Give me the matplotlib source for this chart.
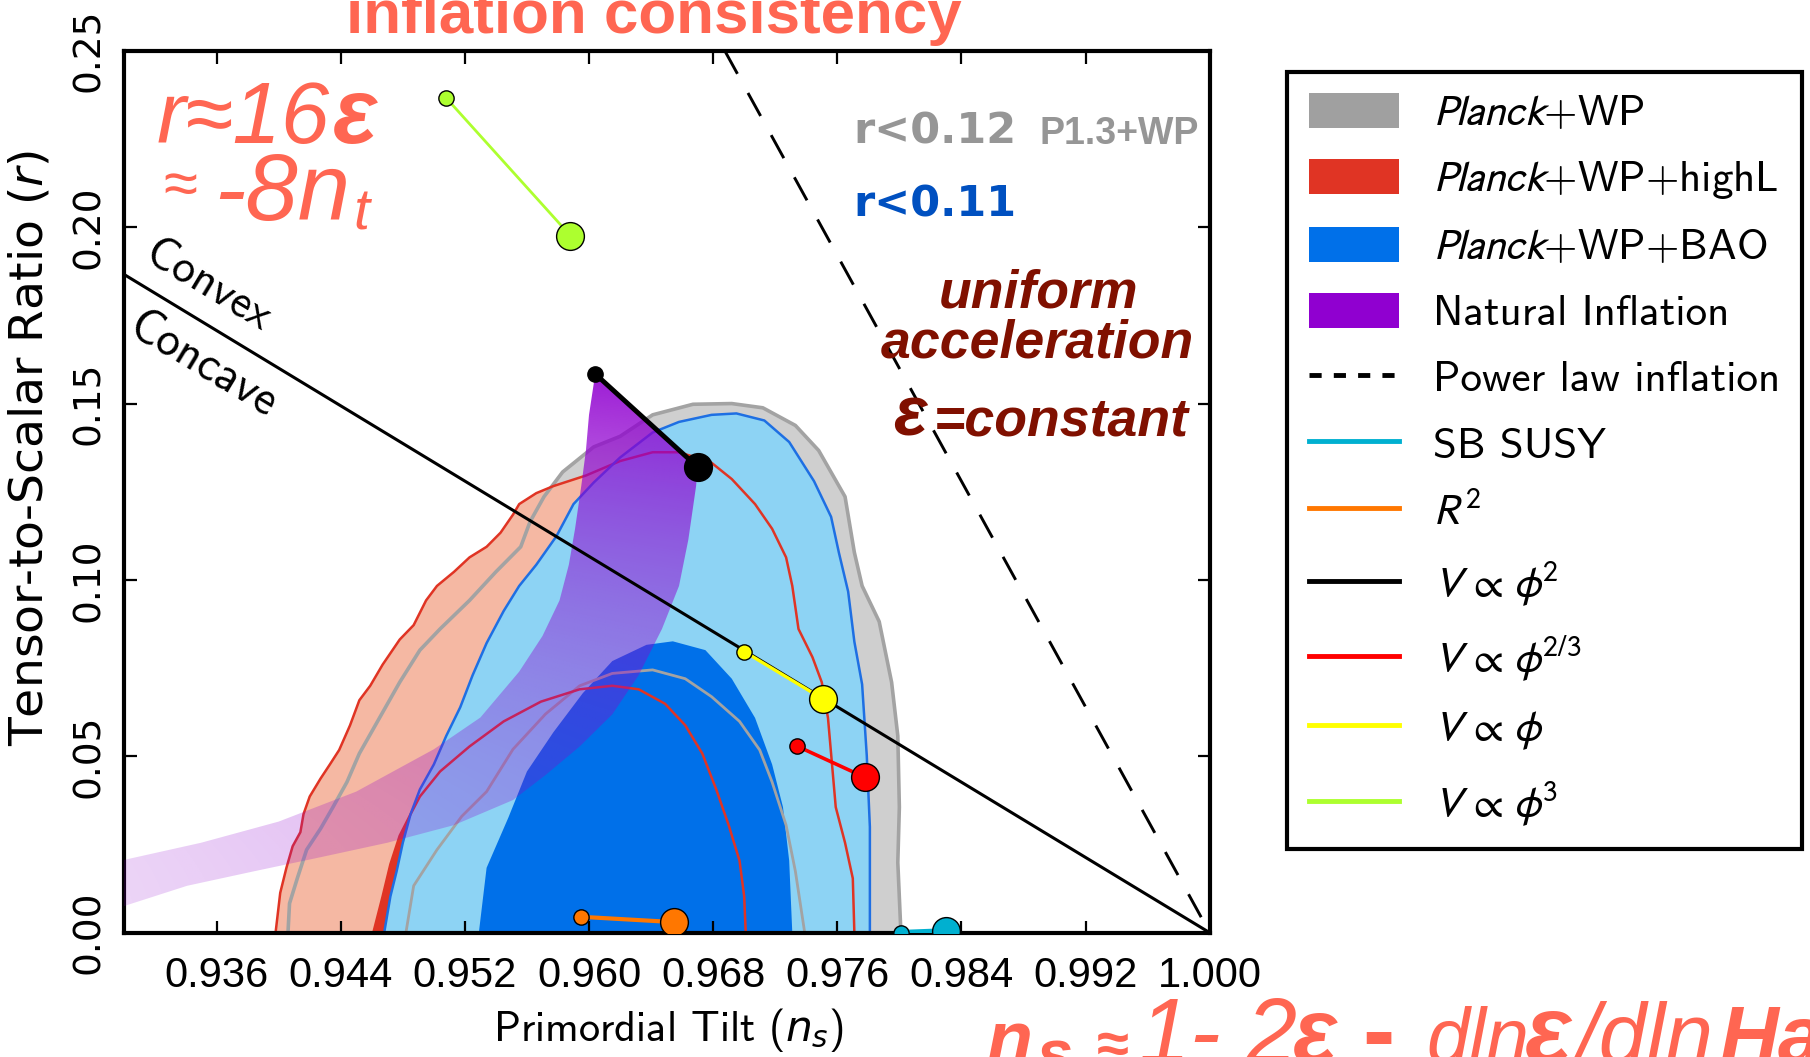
import numpy as np
import matplotlib
matplotlib.use('Agg')
import matplotlib.pyplot as plt
from matplotlib import font_manager as fm
from matplotlib.font_manager import FontProperties
from matplotlib.patches import Polygon, Patch
from matplotlib.lines import Line2D

plt.rcParams['axes.unicode_minus'] = False

# ------------------------------------------------------------------ data
# Planck+WP  (grey) 95% / 68%
planck_wp_95_ns = [0.9406, 0.9407, 0.9412, 0.9418, 0.9427, 0.9435, 0.9444, 0.9452, 0.9465, 0.9478,
                   0.9491, 0.9504, 0.9523, 0.9540, 0.9556, 0.9562, 0.9571, 0.9583, 0.9603, 0.9620,
                   0.9641, 0.9667, 0.9692, 0.9712, 0.9733, 0.9748, 0.9765, 0.9771, 0.9776, 0.9787,
                   0.9795, 0.9799, 0.9800, 0.9799, 0.9801]
planck_wp_95_r = [0.0, 0.0083, 0.0154, 0.0235, 0.0295, 0.0356, 0.0427, 0.0508, 0.0609, 0.0710,
                  0.0801, 0.0861, 0.0942, 0.1023, 0.1094, 0.1165, 0.1236, 0.1306, 0.1377, 0.1407,
                  0.1468, 0.1498, 0.1500, 0.1488, 0.1438, 0.1367, 0.1236, 0.1078, 0.0983, 0.0882,
                  0.0710, 0.0558, 0.0356, 0.0199, 0.0]
planck_wp_68_ns = [0.9482, 0.9487, 0.9502, 0.9518, 0.9534, 0.9551, 0.9572, 0.9594, 0.9615, 0.9641,
                   0.9662, 0.9679, 0.9697, 0.9710, 0.9718, 0.9727, 0.9733, 0.9739]
planck_wp_68_r = [0.0, 0.0133, 0.0235, 0.0330, 0.0400, 0.0520, 0.0620, 0.0700, 0.0735, 0.0745,
                  0.0720, 0.0669, 0.0599, 0.0518, 0.0427, 0.0305, 0.0174, 0.0]

# Planck+WP+highL (red) 95% / 68%
highl_95_ns = [0.9398, 0.9401, 0.9405, 0.9409, 0.9414, 0.9416, 0.9420, 0.9427, 0.9433, 0.9439,
               0.9446, 0.9452, 0.9459, 0.9467, 0.9478, 0.9487, 0.9495, 0.9502, 0.9513, 0.9523,
               0.9534, 0.9543, 0.9551, 0.9555, 0.9566, 0.9577, 0.9598, 0.9620, 0.9641, 0.9658,
               0.9669, 0.9679, 0.9692, 0.9707, 0.9718, 0.9727, 0.9731, 0.9735, 0.9744, 0.9750,
               0.9754, 0.9756, 0.9759, 0.9765, 0.9770, 0.9771]
highl_95_r = [0.0, 0.0113, 0.0184, 0.0245, 0.0285, 0.0336, 0.0386, 0.0437, 0.0477, 0.0518,
              0.0588, 0.0659, 0.0700, 0.0760, 0.0831, 0.0872, 0.0942, 0.0983, 0.1023, 0.1064,
              0.1094, 0.1134, 0.1185, 0.1215, 0.1246, 0.1266, 0.1296, 0.1337, 0.1362, 0.1362,
              0.1347, 0.1332, 0.1286, 0.1215, 0.1145, 0.1064, 0.0983, 0.0861, 0.0781, 0.0710,
              0.0609, 0.0508, 0.0356, 0.0255, 0.0154, 0.0]
highl_68_ns = [0.9461, 0.9467, 0.9472, 0.9478, 0.9485, 0.9491, 0.9504, 0.9523, 0.9545, 0.9569,
               0.9594, 0.9615, 0.9632, 0.9649, 0.9662, 0.9673, 0.9682, 0.9690, 0.9697, 0.9700,
               0.9701]
highl_68_r = [0.0, 0.0103, 0.0194, 0.0275, 0.0336, 0.0386, 0.0457, 0.0528, 0.0599, 0.0655,
              0.0690, 0.0700, 0.0690, 0.0649, 0.0588, 0.0508, 0.0406, 0.0305, 0.0204, 0.0103,
              0.0]

# Planck+WP+BAO (blue) 95% / 68%
bao_95_ns = [0.9468, 0.9472, 0.9476, 0.9480, 0.9485, 0.9491, 0.9500, 0.9508, 0.9517, 0.9525,
             0.9534, 0.9545, 0.9555, 0.9566, 0.9579, 0.9590, 0.9603, 0.9620, 0.9641, 0.9658,
             0.9679, 0.9695, 0.9713, 0.9729, 0.9745, 0.9756, 0.9761, 0.9767, 0.9771, 0.9776,
             0.9779, 0.9781, 0.9781]
bao_95_r = [0.0, 0.0103, 0.0174, 0.0255, 0.0336, 0.0406, 0.0477, 0.0558, 0.0639, 0.0730,
            0.0821, 0.0912, 0.0983, 0.1043, 0.1124, 0.1215, 0.1276, 0.1347, 0.1418, 0.1448,
            0.1468, 0.1472, 0.1452, 0.1391, 0.1280, 0.1179, 0.1078, 0.0967, 0.0825, 0.0704,
            0.0502, 0.0300, 0.0]
bao_68_ns = [0.9529, 0.9534, 0.9548, 0.9560, 0.9577, 0.9596, 0.9615, 0.9637, 0.9654, 0.9675,
             0.9692, 0.9707, 0.9718, 0.9725, 0.9729, 0.9731]
bao_68_r = [0.0, 0.0184, 0.0326, 0.0457, 0.0568, 0.0679, 0.0770, 0.0816, 0.0826, 0.0801,
            0.0720, 0.0609, 0.0477, 0.0356, 0.0204, 0.0]

# Natural inflation band: two edges
natural_upper_ns = [0.9300, 0.9350, 0.9400, 0.9450, 0.9500, 0.9530, 0.9555, 0.9570, 0.9581, 0.9587,
                    0.9591, 0.9595, 0.9598, 0.9600, 0.9604]
natural_upper_r = [0.0206, 0.0255, 0.0315, 0.0400, 0.0520, 0.0610, 0.0740, 0.0841, 0.0942, 0.1043,
                   0.1145, 0.1266, 0.1367, 0.1468, 0.1584]
natural_lower_ns = [0.9300, 0.9341, 0.9384, 0.9427, 0.9470, 0.9513, 0.9551, 0.9572, 0.9594, 0.9615,
                    0.9632, 0.9647, 0.9658, 0.9664, 0.9669, 0.9670]
natural_lower_r = [0.0075, 0.0133, 0.0174, 0.0214, 0.0255, 0.0305, 0.0376, 0.0447, 0.0528, 0.0619,
                   0.0730, 0.0861, 0.0983, 0.1114, 0.1266, 0.1319]

# Reference lines
convex_ns = [0.93, 1.0]
convex_r = [0.1867, 0.0]
powerlaw_ns = [0.96875, 1.0]
powerlaw_r = [0.25, 0.0]

# Models (N=50, N=60)
susy_ns, susy_r = [0.9801, 0.9830], [0.0, 0.0005]
r2_ns, r2_r = [0.9595, 0.9655], [0.0045, 0.0030]
phi2_ns, phi2_r = [0.9604, 0.9670], [0.1584, 0.1320]
phi23_ns, phi23_r = [0.9734, 0.9778], [0.0529, 0.0440]
phi1_ns, phi1_r = [0.9700, 0.9751], [0.0797, 0.0662]
phi3_ns, phi3_r = [0.9508, 0.9588], [0.2366, 0.1976]

xtick_vals = [0.936, 0.944, 0.952, 0.960, 0.968, 0.976, 0.984, 0.992, 1.000]
xtick_labels = ['0.936', '0.944', '0.952', '0.960', '0.968', '0.976', '0.984', '0.992', '1.000']
ytick_vals = [0.00, 0.05, 0.10, 0.15, 0.20, 0.25]
ytick_labels = ['0.00', '0.05', '0.10', '0.15', '0.20', '0.25']

legend_labels = [r'$\mathit{Planck}$+WP', r'$\mathit{Planck}$+WP+highL', r'$\mathit{Planck}$+WP+BAO',
                 'Natural Inflation', 'Power law inflation', 'SB SUSY', r'$R^2$',
                 r'$V\,\propto\,\phi^2$', r'$V\,\propto\,\phi^{2/3}$', r'$V\,\propto\,\phi$',
                 r'$V\,\propto\,\phi^3$']

# ------------------------------------------------------------------ figure
W, H = 1810, 1057
fig = plt.figure(figsize=(W / 100, H / 100), dpi=100)
L, R, T, B = 123.5, 1209.7, 50.8, 932.7
ax = fig.add_axes([L / W, 1 - B / H, (R - L) / W, (B - T) / H])
renderer = fig.canvas.get_renderer()

names = {f.name for f in fm.fontManager.ttflist}
HAS_NARROW = 'Liberation Sans Narrow' in names
NARROW = ['Liberation Sans Narrow', 'Liberation Sans', 'DejaVu Sans'] if HAS_NARROW else ['Liberation Sans', 'DejaVu Sans']
NS = 1.0 if HAS_NARROW else 0.84


def ftext(x, y, s, size, color, weight='normal', style='normal', family=None, ha='left', va='baseline', **kw):
    fam = family if family is not None else NARROW
    sz = size * (NS if family is None else 1.0)
    return fig.text(x / W, 1 - y / H, s, fontsize=sz, color=color, fontweight=weight,
                    fontstyle=style, family=fam, ha=ha, va=va, **kw)


def fit_text(x0, x1, y, s, size, color, weight='normal', style='normal'):
    """Narrow text whose size is tuned so that it spans x0..x1 (pixels)."""
    t = ftext(x0, y, s, size, color, weight=weight, style=style)
    w = t.get_window_extent(renderer).width
    if w > 0:
        k = float(np.clip((x1 - x0) / w, 0.8, 1.3))
        t.set_fontsize(t.get_fontsize() * k)
    return t


GRAY_L, GRAY_D, GRAY_E = '#CFCFCF', '#A0A0A0', '#A3A3A3'
SALMON, RED = '#F5B8A3', '#E03424'
LBLUE, DBLUE, BLUE_E = '#8DD3F4', '#0070E9', '#1E6FE3'
PURPLE = '#9000D0'

# filled regions
ax.fill(planck_wp_95_ns, planck_wp_95_r, facecolor=GRAY_L, edgecolor='none', zorder=1.0)
ax.fill(planck_wp_68_ns, planck_wp_68_r, facecolor=GRAY_D, edgecolor='none', zorder=1.1)
ax.fill(highl_95_ns, highl_95_r, facecolor=SALMON, edgecolor='none', zorder=1.2)
ax.fill(highl_68_ns, highl_68_r, facecolor=RED, edgecolor='none', zorder=1.3)
ax.fill(bao_95_ns, bao_95_r, facecolor=LBLUE, edgecolor='none', zorder=1.4)
ax.fill(bao_68_ns, bao_68_r, facecolor=DBLUE, edgecolor='none', zorder=1.5)
# contour lines
ax.plot(planck_wp_95_ns, planck_wp_95_r, color=GRAY_E, lw=2.6, zorder=2.0)
ax.plot(planck_wp_68_ns, planck_wp_68_r, color=GRAY_E, lw=2.0, zorder=2.0)
ax.plot(highl_95_ns, highl_95_r, color=RED, lw=1.8, zorder=2.1)
ax.plot(highl_68_ns, highl_68_r, color=RED, lw=1.8, zorder=2.1)
ax.plot(bao_95_ns, bao_95_r, color=BLUE_E, lw=1.8, zorder=2.2)

# natural inflation band with a transparency gradient
band = np.column_stack([natural_upper_ns + natural_lower_ns[::-1],
                        natural_upper_r + natural_lower_r[::-1]])
poly = Polygon(band, closed=True, facecolor='none', edgecolor='none', transform=ax.transData)
gx = np.linspace(0.93, 0.968, 400)
gy = np.linspace(0.0, 0.162, 300)
GX, GY = np.meshgrid(gx, gy)
tx = np.clip((GX - 0.93) / 0.037, 0, 1)
ty = np.clip(GY / 0.158, 0, 1)
rgba = np.zeros(GX.shape + (4,))
rgba[..., 0] = 0x90 / 255
rgba[..., 1] = 0.0
rgba[..., 2] = 0xD0 / 255
rgba[..., 3] = np.clip(0.17 + 0.14 * tx + 0.6 * ty ** 2.3, 0, 0.93)
im = ax.imshow(rgba, extent=(0.93, 0.968, 0.0, 0.162), origin='lower', aspect='auto',
               interpolation='bilinear', zorder=3)
im.set_clip_path(poly)

# reference lines
ax.plot(convex_ns, convex_r, color='k', lw=2.2, zorder=5)
ax.plot(powerlaw_ns, powerlaw_r, color='k', lw=2.1, dashes=(9, 7.5), zorder=5)


def model(ns, r, color, lw):
    ax.plot(ns, r, color=color, lw=lw, zorder=6, solid_capstyle='butt')
    ax.plot(ns[0], r[0], 'o', ms=11, mfc=color, mec='k', mew=1.0, zorder=7)
    ax.plot(ns[1], r[1], 'o', ms=20, mfc=color, mec='k', mew=1.0, zorder=7)


SUSY_C, R2_C, PHI2_C, PHI23_C, PHI1_C, PHI3_C = '#00B0D0', '#FF7700', '#000000', '#FF0000', '#FFFF00', '#ADFF2F'
model(susy_ns, susy_r, SUSY_C, 4.0)
model(r2_ns, r2_r, R2_C, 3.0)
model(phi2_ns, phi2_r, PHI2_C, 3.5)
model(phi23_ns, phi23_r, PHI23_C, 2.6)
model(phi1_ns, phi1_r, PHI1_C, 2.4)
model(phi3_ns, phi3_r, PHI3_C, 2.0)

ax.set_xlim(0.93, 1.0)
ax.set_ylim(0.0, 0.25)
ax.set_xticks(xtick_vals)
ax.set_xticklabels(xtick_labels)
ax.set_yticks(ytick_vals)
ax.set_yticklabels(ytick_labels)
ax.tick_params(direction='in', length=9, width=1.6, top=True, right=True)
ax.tick_params(axis='x', pad=17, labelsize=30)
ax.tick_params(axis='y', pad=12, labelsize=27, labelrotation=90)
for lab in ax.get_xticklabels():
    lab.set_family(['Liberation Sans', 'DejaVu Sans'])
for lab in ax.get_yticklabels():
    lab.set_family('DejaVu Sans')
    lab.set_va('center')
for s in ax.spines.values():
    s.set_linewidth(3)

# axis labels
fig.text(668 / W, 1 - 1030 / H, r'Primordial Tilt ($n_s$)', ha='center', va='center',
         family='cmss10', fontsize=30.5, math_fontfamily='dejavusans')
fig.text(30 / W, 1 - 448 / H, r'Tensor-to-Scalar Ratio ($r$)', ha='center', va='center',
         rotation=90, family='DejaVu Sans', fontsize=34, math_fontfamily='dejavusans')

# Convex / Concave
ax.text(0.9312, 0.1905, 'Convex', rotation=-31.2, rotation_mode='anchor', ha='left', va='baseline',
        family='cmss10', fontsize=33, zorder=8)
ax.text(0.9313, 0.1779, 'Concave', rotation=-31.2, rotation_mode='anchor', ha='left', va='top',
        family='cmss10', fontsize=34, zorder=8)

# annotations
SALM_TXT = '#FF6652'
ftext(654, 33, 'inflation consistency', 53, SALM_TXT, weight='bold', ha='center')
fit_text(157, 330, 143, 'r≈16', 76, SALM_TXT, style='italic')
fit_text(333, 377, 143, 'ε', 70, SALM_TXT, weight='bold', style='italic')
fit_text(163, 197, 204, '≈', 48, SALM_TXT)
fit_text(214, 350, 220, '-8n', 75, SALM_TXT, style='italic')
fit_text(353, 369, 229, 't', 44, SALM_TXT, style='italic')

ftext(853, 144, 'r<0.12', 31, '#969696', weight='bold', family='DejaVu Sans')
ftext(1040, 144, 'P1.3+WP', 27, '#969696', weight='bold', family=['Liberation Sans', 'DejaVu Sans'])
ftext(853, 217, 'r<0.11', 31, '#0050C0', weight='bold', family='DejaVu Sans')

DRED = '#801000'
ftext(1039, 307, 'uniform', 46, DRED, weight='bold', style='italic', ha='center')
ftext(1037, 357, 'acceleration', 46, DRED, weight='bold', style='italic', ha='center')
ftext(893, 435, 'ε', 60, DRED, weight='bold', style='italic')
ftext(934, 435, '=constant', 46, DRED, weight='bold', style='italic')

# bottom formula (cut by the figure edge)
BL = 1063
fit_text(987, 1033, BL, 'n', 64, SALM_TXT, weight='bold', style='italic')
fit_text(1036, 1072, BL + 12, 's', 44, SALM_TXT, weight='bold', style='italic')
fit_text(1097, 1129, BL, '≈', 40, SALM_TXT, weight='bold')
fit_text(1139, 1297, BL, '1- 2', 68, SALM_TXT, style='italic')
fit_text(1293, 1337, BL, 'ε', 64, SALM_TXT, weight='bold', style='italic')
fit_text(1362, 1395, BL, '-', 64, SALM_TXT, weight='bold')
fit_text(1426, 1529, BL, 'dln', 68, SALM_TXT, style='italic')
fit_text(1525, 1575, BL, 'ε', 64, SALM_TXT, weight='bold', style='italic')
fit_text(1576, 1714, BL, '/dln', 68, SALM_TXT, style='italic')
ftext(1720, BL, 'Ha', 70, SALM_TXT, weight='bold', style='italic')

# legend
handles = [Patch(facecolor=GRAY_D, edgecolor='none'),
           Patch(facecolor=RED, edgecolor='none'),
           Patch(facecolor=DBLUE, edgecolor='none'),
           Patch(facecolor=PURPLE, edgecolor='none'),
           Line2D([], [], color='k', lw=3.5, dashes=(2.5, 2.5)),
           Line2D([], [], color=SUSY_C, lw=3.5),
           Line2D([], [], color=R2_C, lw=3.5),
           Line2D([], [], color=PHI2_C, lw=3.5),
           Line2D([], [], color=PHI23_C, lw=3.5),
           Line2D([], [], color=PHI1_C, lw=3.5),
           Line2D([], [], color=PHI3_C, lw=3.5)]
leg = fig.legend(handles, legend_labels, loc='upper left', bbox_to_anchor=(1287 / W, 1 - 71.6 / H),
                 prop=FontProperties(family='cmss10', size=31, math_fontfamily='stixsans'),
                 frameon=True, fancybox=False, edgecolor='k', framealpha=1,
                 borderpad=0.5, labelspacing=0.6, handlelength=2.1, handleheight=0.86,
                 handletextpad=0.8, borderaxespad=0)
leg.get_frame().set_linewidth(3)

fig.savefig('out.png', dpi=100)
